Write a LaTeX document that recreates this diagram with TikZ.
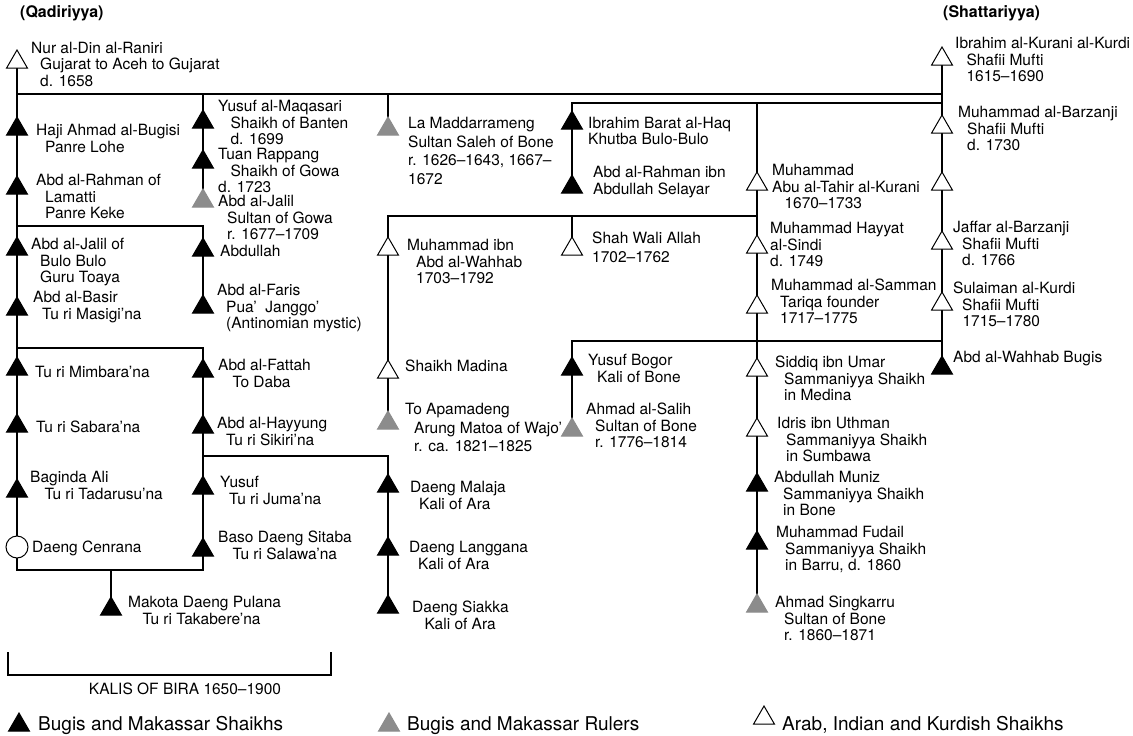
\documentclass[tikz,border=0pt]{standalone}
\usepackage{fontspec}
\setmainfont{TeX Gyre Heros}
\usetikzlibrary{shapes.geometric}
\definecolor{rulergray}{RGB}{140,140,140}
\newcommand\idt[1][9]{\hspace*{#1pt}}
\pgfdeclarelayer{bg}
\pgfsetlayers{bg,main}
\tikzset{
  tri/.style={regular polygon, regular polygon sides=3, minimum size=24pt,
    inner sep=0pt, line width=1pt, draw=black},
  shaikh/.style={tri, fill=black},
  ruler/.style={tri, fill=rulergray, draw=rulergray},
  arab/.style={tri, fill=white},
  lbl/.style={anchor=north west, inner sep=0pt, align=left,
    font=\fontsize{15.5}{16.5}\selectfont},
  title/.style={anchor=base west, inner sep=0pt, font=\fontsize{16}{18}\selectfont\bfseries},
  legend/.style={anchor=base west, inner sep=0pt, font=\fontsize{19}{22}\selectfont},
  vline/.style={line width=1.7pt, line cap=rect},
  hline/.style={line width=1.2pt, line cap=rect},
}
\begin{document}
\begin{tikzpicture}[x=1pt,y=1pt]
\useasboundingbox (0,0) rectangle (1133,-736);

% headings
\node[title] (qad) at (20,-17) {(Qadiriyya)};
\node[title] (sha) at (943,-17) {(Shattariyya)};

% ---- left column
\node[arab] (nur) at (17,-62) {};
\node[lbl] (nur-t) at (31,-41.7) {Nur al-Din al-Raniri\\\idt Gujarat to Aceh to Gujarat\\\idt d. 1658};
\node[shaikh] (haji) at (17,-129) {};
\node[lbl] (haji-t) at (36,-124) {Haji Ahmad al-Bugisi\\\idt Panre Lohe};
\node[shaikh] (rahman) at (17,-188) {};
\node[lbl] (rahman-t) at (36,-174) {Abd al-Rahman of\\\idt Lamatti\\\idt Panre Keke};
\node[shaikh] (jalilbb) at (17,-249) {};
\node[lbl] (jalilbb-t) at (31,-238) {Abd al-Jalil of\\\idt Bulo Bulo\\\idt Guru Toaya};
\node[shaikh] (basir) at (17,-309) {};
\node[lbl] (basir-t) at (33,-291) {Abd al-Basir\\\idt Tu ri Masigi’na};
\node[shaikh] (mimbara) at (17,-369) {};
\node[lbl] (mimbara-t) at (35,-366) {Tu ri Mimbara’na};
\node[shaikh] (sabara) at (17,-426) {};
\node[lbl] (sabara-t) at (36,-421) {Tu ri Sabara’na};
\node[shaikh] (baginda) at (17,-491) {};
\node[lbl] (baginda-t) at (30,-471) {Baginda Ali\\\idt[10] Tu ri Tadarusu’na};
\node[circle, draw=black, fill=white, line width=1pt, minimum size=22pt, inner sep=0pt] (cenrana) at (17,-547) {};
\node[lbl] (cenrana-t) at (32,-541) {Daeng Cenrana};
\node[shaikh] (makota) at (111,-609) {};
\node[lbl] (makota-t) at (128,-596) {Makota Daeng Pulana\\\idt[10] Tu ri Takabere’na};

% ---- second column
\node[shaikh] (yusufm) at (203,-122) {};
\node[lbl] (yusufm-t) at (218,-100) {Yusuf al-Maqasari\\\idt[8] Shaikh of Banten\\\idt[8] d. 1699};
\node[shaikh] (tuan) at (203,-162) {};
\node[lbl] (tuan-t) at (218,-148) {Tuan Rappang\\\idt[8] Shaikh of Gowa\\d. 1723};
\node[ruler] (jalilg) at (203,-201) {};
\node[lbl] (jalilg-t) at (218,-195) {Abd al-Jalil\\\idt Sultan of Gowa\\\idt r. 1677–1709};
\node[shaikh] (abdullah) at (203,-250) {};
\node[lbl] (abdullah-t) at (220,-245) {Abdullah};
\node[shaikh] (faris) at (203,-307) {};
\node[lbl] (faris-t) at (217,-284) {Abd al-Faris\\\idt Pua’~ Janggo’\\\idt (Antinomian mystic)};
\node[shaikh] (fattah) at (203,-371) {};
\node[lbl] (fattah-t) at (218,-359) {Abd al-Fattah\\\idt[10] To Daba};
\node[shaikh] (hayyung) at (203,-427) {};
\node[lbl] (hayyung-t) at (217,-417) {Abd al-Hayyung\\\idt Tu ri Sikiri’na};
\node[shaikh] (yusufj) at (203,-488) {};
\node[lbl] (yusufj-t) at (220,-476) {Yusuf\\\idt Tu ri Juma’na};
\node[shaikh] (baso) at (203,-550) {};
\node[lbl] (baso-t) at (218,-531) {Baso Daeng Sitaba\\\idt[10] Tu ri Salawa’na};

% ---- third column
\node[ruler] (madda) at (388,-129) {};
\node[lbl] (madda-t) at (408,-117) {La Maddarrameng\\[2pt]Sultan Saleh of Bone\\[2pt]r. 1626–1643, 1667–\\[2pt]1672};
\node[arab] (wahhab) at (388,-249) {};
\node[lbl] (wahhab-t) at (407,-239) {Muhammad ibn\\\idt Abd al-Wahhab\\\idt 1703–1792};
\node[arab] (madina) at (388,-372) {};
\node[lbl] (madina-t) at (405,-360) {Shaikh Madina};
\node[ruler] (apamadeng) at (388,-423) {};
\node[lbl] (apamadeng-t) at (405,-403) {To Apamadeng\\[2pt]\idt Arung Matoa of Wajo’\\[2pt]\idt r. ca. 1821–1825};
\node[shaikh] (malaja) at (388,-486) {};
\node[lbl] (malaja-t) at (410,-481) {Daeng Malaja\\\idt Kali of Ara};
\node[shaikh] (langgana) at (388,-549) {};
\node[lbl] (langgana-t) at (409,-541) {Daeng Langgana\\\idt Kali of Ara};
\node[shaikh] (siakka) at (388,-607) {};
\node[lbl] (siakka-t) at (412,-601) {Daeng Siakka\\\idt[8] Kali of Ara};

% ---- fourth column
\node[shaikh] (ibrahimb) at (572,-123) {};
\node[lbl] (ibrahimb-t) at (588,-117) {Ibrahim Barat al-Haq\\[-1pt]Khutba Bulo-Bulo};
\node[shaikh] (selayar) at (572,-187) {};
\node[lbl] (selayar-t) at (593,-166) {Abd al-Rahman ibn\\Abdullah Selayar};
\node[arab] (shahwali) at (572,-249) {};
\node[lbl] (shahwali-t) at (592,-232) {Shah Wali Allah\\[2.5pt]1702–1762};
\node[shaikh] (bogor) at (572,-369) {};
\node[lbl] (bogor-t) at (588,-354) {Yusuf Bogor\\\idt Kali of Bone};
\node[ruler] (salih) at (572,-430) {};
\node[lbl] (salih-t) at (586,-403) {Ahmad al-Salih\\\idt Sultan of Bone\\\idt r. 1776–1814};

% ---- fifth column
\node[arab] (tahir) at (757,-184) {};
\node[lbl] (tahir-t) at (772,-164) {Muhammad\\Abu al-Tahir al-Kurani\\\idt[8] 1670–1733};
\node[arab] (hayyat) at (757,-247) {};
\node[lbl] (hayyat-t) at (770,-222) {Muhammad Hayyat\\al-Sindi\\d. 1749};
\node[arab] (samman) at (757,-307) {};
\node[lbl] (samman-t) at (771,-279) {Muhammad al-Samman\\\idt Tariqa founder\\\idt 1717–1775};
\node[arab] (siddiq) at (757,-370) {};
\node[lbl] (siddiq-t) at (775,-356) {Siddiq ibn Umar\\\idt Sammaniyya Shaikh\\\idt in Medina};
\node[arab] (idris) at (757,-430) {};
\node[lbl] (idris-t) at (777,-417) {Idris ibn Uthman\\\idt Sammaniyya Shaikh\\\idt in Sumbawa};
\node[shaikh] (muniz) at (757,-485) {};
\node[lbl] (muniz-t) at (774,-471) {Abdullah Muniz\\\idt Sammaniyya Shaikh\\\idt in Bone};
\node[shaikh] (fudail) at (757,-543) {};
\node[lbl] (fudail-t) at (776,-526) {Muhammad Fudail\\\idt Sammaniyya Shaikh\\\idt in Barru, d. 1860};
\node[ruler] (singkarru) at (757,-606) {};
\node[lbl] (singkarru-t) at (775,-596) {Ahmad Singkarru\\\idt Sultan of Bone\\\idt r. 1860–1871};

% ---- right column
\node[arab] (kurani) at (942,-59) {};
\node[lbl] (kurani-t) at (955,-37) {Ibrahim al-Kurani al-Kurdi\\\idt[7] Shafii Mufti\\\idt[7] 1615–1690};
\node[arab] (barzanji) at (942,-127) {};
\node[lbl] (barzanji-t) at (958,-106) {Muhammad al-Barzanji\\\idt Shafii Mufti\\\idt d. 1730};
\node[arab] (anon) at (942,-184) {};
\node[arab] (jaffar) at (942,-243) {};
\node[lbl] (jaffar-t) at (953,-221) {Jaffar al-Barzanji\\\idt Shafii Mufti\\\idt d. 1766};
\node[arab] (sulaiman) at (942,-304) {};
\node[lbl] (sulaiman-t) at (953,-282) {Sulaiman al-Kurdi\\\idt Shafii Mufti\\\idt[5] 1715–1780};
\node[shaikh] (wbugis) at (942,-368) {};
\node[lbl] (wbugis-t) at (953,-351) {Abd al-Wahhab Bugis};

% ---- junction points
\coordinate (jA94) at (17,-94);
\coordinate (jB94) at (203,-94);
\coordinate (jC94) at (388,-94);
\coordinate (jF94) at (942,-94);
\coordinate (jG103) at (572,-103);
\coordinate (jE103) at (757,-103);
\coordinate (jF103) at (942,-103);
\coordinate (jC216) at (388,-216);
\coordinate (jG216) at (572,-216);
\coordinate (jE216) at (757,-216);
\coordinate (jA226) at (17,-226);
\coordinate (jB226) at (203,-226);
\coordinate (jG341) at (572,-341);
\coordinate (jF341) at (942,-341);
\coordinate (jA348) at (17,-348);
\coordinate (jB348) at (203,-348);
\coordinate (jB456) at (203,-456);
\coordinate (jD456) at (388,-456);
\coordinate (jA570) at (17,-570);
\coordinate (jM570) at (111,-570);
\coordinate (jB570) at (203,-570);

\begin{pgfonlayer}{bg}
  % horizontal links
  \draw[hline] (jA94) -- (jF94);
  \draw[hline] (jG103) -- (jF103);
  \draw[hline] (jC216) -- (jE216);
  \draw[hline] (jA226) -- (jB226);
  \draw[hline] (jG341) -- (jF341);
  \draw[hline] (jA348) -- (jB348);
  \draw[hline] (jB456) -- (jD456);
  \draw[hline] (jA570) -- (jB570);
  % vertical lines of descent
  \draw[vline] (nur.center) -- (haji.center) -- (rahman.center) -- (jalilbb.center)
    -- (basir.center) -- (mimbara.center) -- (sabara.center) -- (baginda.center)
    -- (cenrana.center) -- (jA570);
  \draw[vline] (jB94) -- (yusufm.center) -- (tuan.center) -- (jalilg.center);
  \draw[vline] (jB226) -- (abdullah.center) -- (faris.center);
  \draw[vline] (jB348) -- (fattah.center) -- (hayyung.center) -- (yusufj.center)
    -- (baso.center) -- (jB570);
  \draw[vline] (jM570) -- (makota.center);
  \draw[vline] (jC94) -- (madda.center);
  \draw[vline] (jC216) -- (wahhab.center) -- (madina.center) -- (apamadeng.center);
  \draw[vline] (jD456) -- (malaja.center) -- (langgana.center) -- (siakka.center);
  \draw[vline] (jG103) -- (ibrahimb.center) -- (selayar.center);
  \draw[vline] (jG216) -- (shahwali.center);
  \draw[vline] (jG341) -- (bogor.center) -- (salih.center);
  \draw[vline] (jE103) -- (tahir.center) -- (hayyat.center) -- (samman.center)
    -- (siddiq.center) -- (idris.center) -- (muniz.center) -- (fudail.center)
    -- (singkarru.center);
  \draw[vline] (kurani.center) -- (barzanji.center) -- (anon.center)
    -- (jaffar.center) -- (sulaiman.center) -- (wbugis.center);
\end{pgfonlayer}

% ---- bracket over the kalis of Bira
\coordinate (brL) at (8,-652);
\coordinate (brR) at (331,-652);
\draw[line width=1.3pt] (brL) |- (brR |- 0,-675) -- (brR);
\node[anchor=base, inner sep=0pt, font=\fontsize{15.5}{18}\selectfont] (kalis) at (185,-694) {KALIS OF BIRA 1650–1900};

% ---- legend
\node[shaikh] (lg1) at (19,-725) {};
\node[legend] (lg1-t) at (38,-730.5) {Bugis and Makassar Shaikhs};
\node[ruler] (lg2) at (389,-725) {};
\node[legend] (lg2-t) at (407,-730.5) {Bugis and Makassar Rulers};
\node[arab] (lg3) at (764,-718) {};
\node[legend] (lg3-t) at (782,-730.5) {Arab, Indian and Kurdish Shaikhs};
\end{tikzpicture}
\end{document}
